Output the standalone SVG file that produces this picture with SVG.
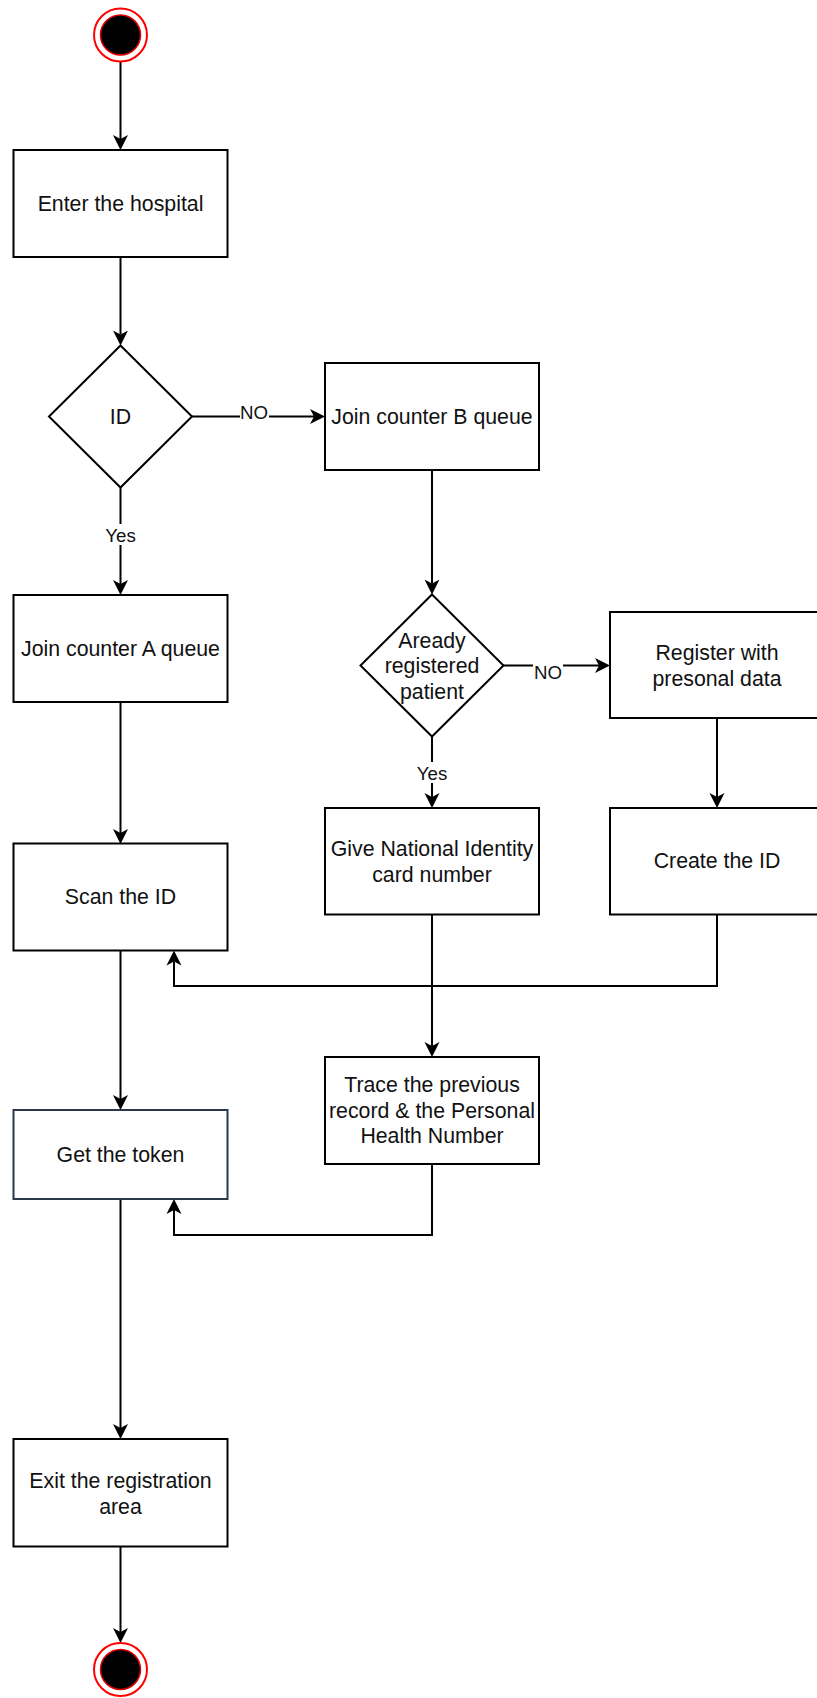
<svg xmlns="http://www.w3.org/2000/svg" width="817" height="1698" viewBox="0 0 817 1698">
<style>
.box{fill:#fff;stroke:#000;stroke-width:2}
.dec{fill:#fff;stroke:#000;stroke-width:2}
.t{font-family:"Liberation Sans",Arial,sans-serif;font-size:21.3px;fill:#111;text-anchor:middle}
.lbl{font-family:"Liberation Sans",Arial,sans-serif;font-size:18.7px;fill:#111;text-anchor:middle}
.e{fill:none;stroke:#000;stroke-width:2;marker-end:url(#arr)}
.ring{fill:#fff;stroke:#ff0000;stroke-width:2}
.dot{fill:#000;stroke:#e00000;stroke-width:1.5}
</style>
<defs>
<marker id="arr" markerUnits="userSpaceOnUse" markerWidth="16" markerHeight="16" refX="4" refY="8" orient="auto">
<path d="M0,0.5 L15,8 L0,15.5 L4,8 Z" fill="#000"/>
</marker>
</defs>
<rect width="817" height="1698" fill="#fff"/>
<g id="connectors">
<path class="e" d="M120.5,61.5 V139"/>
<path class="e" d="M120.5,257 V334.5"/>
<path class="e" d="M192,416.5 H314"/>
<path class="e" d="M120.5,487.5 V584"/>
<path class="e" d="M120.5,702 V833"/>
<path class="e" d="M120.5,950.5 V1099"/>
<path class="e" d="M120.5,1199 V1428"/>
<path class="e" d="M120.5,1546.5 V1632"/>
<path class="e" d="M432,470 V583.5"/>
<path class="e" d="M503.5,665.5 H599"/>
<path class="e" d="M432,736.5 V797"/>
<path class="e" d="M717,718 V797"/>
<path class="e" d="M717,914.5 V986 H174 V961.5"/>
<path class="e" d="M432,914.5 V1046"/>
<path class="e" d="M432,1164 V1235 H174 V1210"/>
<rect x="240" y="403" width="29" height="19" fill="#fff"/>
<text class="lbl" x="254" y="418.5">NO</text>
<rect x="104" y="524" width="33" height="21" fill="#fff"/>
<text class="lbl" x="120.5" y="542">Yes</text>
<rect x="533" y="660" width="30" height="21" fill="#fff"/>
<text class="lbl" x="548" y="679">NO</text>
<rect x="416" y="762" width="33" height="21" fill="#fff"/>
<text class="lbl" x="432" y="779.5">Yes</text>
</g>
<g id="start">
<circle class="ring" cx="120.5" cy="35" r="26.5"/>
<circle class="dot" cx="120.5" cy="35" r="20"/>
</g>
<g id="enter">
<rect class="box" x="13.5" y="150" width="214" height="107"/>
<text class="t" x="120.5" y="210.5">Enter the hospital</text>
</g>
<g id="id-decision">
<polygon class="dec" points="120.5,345.5 192,416.5 120.5,487.5 49,416.5"/>
<text class="t" x="120.5" y="423.5">ID</text>
</g>
<g id="counter-b">
<rect class="box" x="325" y="363" width="214" height="107"/>
<text class="t" x="432" y="423.5">Join counter B queue</text>
</g>
<g id="counter-a">
<rect class="box" x="13.5" y="595" width="214" height="107"/>
<text class="t" x="120.5" y="655.5">Join counter A queue</text>
</g>
<g id="registered-decision">
<polygon class="dec" points="432,594.5 503.5,665.5 432,736.5 360.5,665.5"/>
<text class="t" x="432" y="647.5">Aready</text>
<text class="t" x="432" y="673">registered</text>
<text class="t" x="432" y="698.5">patient</text>
</g>
<g id="register">
<rect class="box" x="610" y="612" width="214" height="106"/>
<text class="t" x="717" y="659.5">Register with</text>
<text class="t" x="717" y="685.5">presonal data</text>
</g>
<g id="give-nic">
<rect class="box" x="325" y="808" width="214" height="106.5"/>
<text class="t" x="432" y="855.5">Give National Identity</text>
<text class="t" x="432" y="881.5">card number</text>
</g>
<g id="create-id">
<rect class="box" x="610" y="808" width="214" height="106.5"/>
<text class="t" x="717" y="867.5">Create the ID</text>
</g>
<g id="scan">
<rect class="box" x="13.5" y="843.5" width="214" height="107"/>
<text class="t" x="120.5" y="904">Scan the ID</text>
</g>
<g id="trace">
<rect class="box" x="325" y="1057" width="214" height="107"/>
<text class="t" x="432" y="1092">Trace the previous</text>
<text class="t" x="432" y="1117.5">record &amp; the Personal</text>
<text class="t" x="432" y="1143">Health Number</text>
</g>
<g id="token">
<rect class="box" x="13.5" y="1110" width="214" height="89" style="stroke:#2b3a4a"/>
<text class="t" x="120.5" y="1161.5">Get the token</text>
</g>
<g id="exit">
<rect class="box" x="13.5" y="1439" width="214" height="107.5"/>
<text class="t" x="120.5" y="1487.5">Exit the registration</text>
<text class="t" x="120.5" y="1513.5">area</text>
</g>
<g id="end">
<circle class="ring" cx="120.5" cy="1669.5" r="26.5"/>
<circle class="dot" cx="120.5" cy="1669.5" r="20"/>
</g>
</svg>
